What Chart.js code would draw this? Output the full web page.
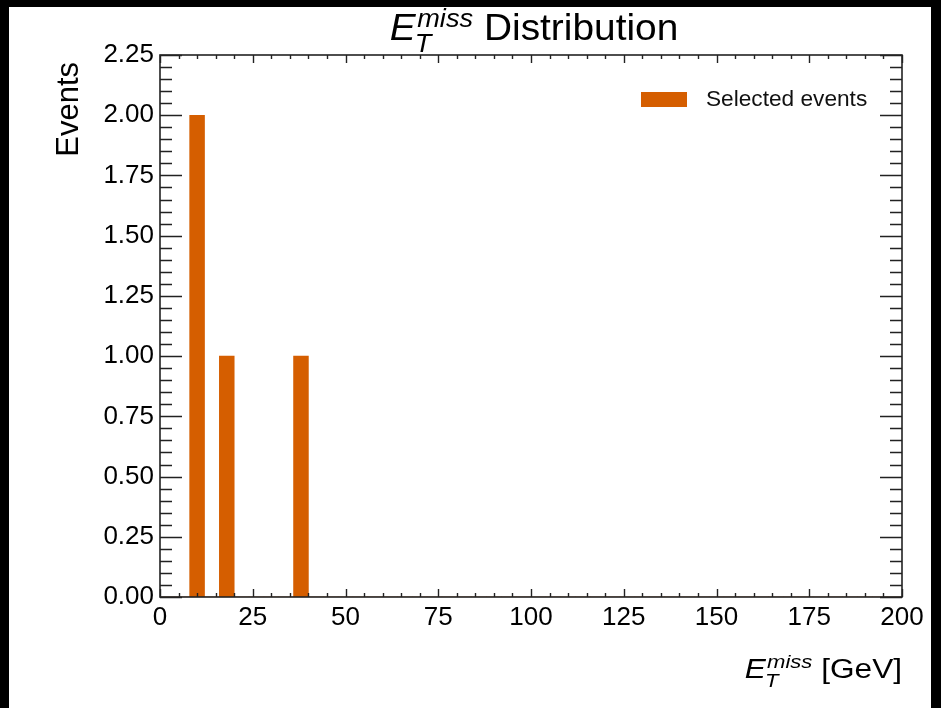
<!DOCTYPE html>
<html><head><meta charset="utf-8">
<script src="https://cdn.jsdelivr.net/npm/chart.js@4.4.0/dist/chart.umd.min.js"></script>
<style>
html,body{margin:0;padding:0;background:#000;width:941px;height:708px;overflow:hidden}
#wrap{position:absolute;left:9px;top:7px;width:922px;height:701px;background:#fff}
canvas{display:block}
</style></head><body><div id="wrap"><canvas id="c" width="922" height="701"></canvas></div>
<script>
// Histogram: 50 bins of 4 GeV from 0 to 200
const binLow = 0;
const binWidth = 4;
const counts = [0,0,2,0,1,0,0,0,0,1,
                0,0,0,0,0,0,0,0,0,0,
                0,0,0,0,0,0,0,0,0,0,
                0,0,0,0,0,0,0,0,0,0,
                0,0,0,0,0,0,0,0,0,0];
const seriesLabel = 'Selected events';
const xTickStep = 25, xMin = 0, xMax = 200;
const yTickStep = 0.25, yMin = 0, yMax = 2.25;
const barColor = '#d55e00';
const FONT = '"Liberation Sans", Arial, Helvetica, sans-serif';

const binCenters = counts.map((_, i) => binLow + binWidth * (i + 0.5));

function drawMath(ctx, x, y, size, sx, align, rest) {
  const sub = size * 0.7;
  ctx.save();
  ctx.font = 'italic ' + size + 'px ' + FONT;
  const wE = ctx.measureText('E').width;
  ctx.font = 'italic ' + sub + 'px ' + FONT;
  const wM = ctx.measureText('miss').width;
  const wT = ctx.measureText('T').width;
  ctx.font = size + 'px ' + FONT;
  const wR = ctx.measureText(rest).width;
  const gap = size * 0.28;
  const total = (wE + size * 0.04 + Math.max(wM, wT) + gap + wR) * sx;
  let x0 = align === 'center' ? x - total / 2 : (align === 'right' ? x - total : x);
  ctx.translate(x0, y);
  ctx.scale(sx, 1);
  ctx.fillStyle = '#000';
  ctx.textBaseline = 'alphabetic';
  ctx.textAlign = 'left';
  ctx.font = 'italic ' + size + 'px ' + FONT;
  ctx.fillText('E', 0, 0);
  ctx.font = 'italic ' + sub + 'px ' + FONT;
  const sxp = wE + size * 0.04;
  ctx.fillText('miss', sxp, -size * 0.36);
  ctx.fillText('T', sxp - size * 0.06, size * 0.33);
  ctx.font = size + 'px ' + FONT;
  ctx.fillText(rest, sxp + Math.max(wM, wT) + gap, 0);
  ctx.restore();
}

const decorPlugin = {
  id: 'decor',
  afterDatasetsDraw(chart) {
    const ctx = chart.ctx;
    const a = chart.chartArea;
    const xs = chart.scales.x, ys = chart.scales.y;
    ctx.save();
    ctx.strokeStyle = '#222';
    ctx.lineWidth = 1.6;
    ctx.strokeRect(a.left, a.top, a.right - a.left, a.bottom - a.top);
    ctx.lineWidth = 1.4;
    ctx.beginPath();
    const ny = Math.round((yMax - yMin) / (yTickStep / 5));
    for (let i = 0; i <= ny; i++) {
      const v = yMin + i * yTickStep / 5;
      const p = Math.round(ys.getPixelForValue(v)) + 0.5;
      const L = (i % 5 === 0) ? 22 : 12;
      ctx.moveTo(a.left, p); ctx.lineTo(a.left + L, p);
      ctx.moveTo(a.right, p); ctx.lineTo(a.right - L, p);
    }
    const nx = Math.round((xMax - xMin) / (xTickStep / 5));
    for (let i = 0; i <= nx; i++) {
      const v = xMin + i * xTickStep / 5;
      const p = Math.round(xs.getPixelForValue(v)) + 0.5;
      const L = (i % 5 === 0) ? 8 : 4;
      ctx.moveTo(p, a.bottom); ctx.lineTo(p, a.bottom - L);
      ctx.moveTo(p, a.top); ctx.lineTo(p, a.top + L);
    }
    ctx.stroke();
    ctx.restore();

    drawMath(ctx, (a.left + a.right) / 2 + 3, 33, 37, 1.05, 'center', 'Distribution');
    drawMath(ctx, a.right, 671, 27, 1.17, 'right', '[GeV]');
    ctx.save();
    ctx.translate(69, a.top + 7);
    ctx.rotate(-Math.PI / 2);
    ctx.font = '31px ' + FONT;
    ctx.fillStyle = '#000';
    ctx.textAlign = 'right';
    ctx.textBaseline = 'alphabetic';
    ctx.fillText('Events', 0, 0);
    ctx.restore();
    const ds = chart.data.datasets[0];
    ctx.save();
    const bx = a.right - 261, by = a.top + 37;
    ctx.fillStyle = ds.backgroundColor;
    ctx.fillRect(bx, by, 46, 15);
    ctx.translate(bx + 65, by + 7.5);
    ctx.scale(1.03, 1);
    ctx.font = '22px ' + FONT;
    ctx.fillStyle = '#111';
    ctx.textAlign = 'left';
    ctx.textBaseline = 'middle';
    ctx.fillText(ds.label, 0, 0);
    ctx.restore();
  }
};

new Chart(document.getElementById('c'), {
  type: 'bar',
  data: {
    datasets: [{
      label: seriesLabel,
      data: binCenters.map((x, i) => ({ x: x, y: counts[i] })),
      backgroundColor: barColor,
      borderWidth: 0,
      barPercentage: 1.0,
      categoryPercentage: 1.0
    }]
  },
  options: {
    responsive: false,
    animation: false,
    layout: { padding: { top: 48, right: 29, left: 0, bottom: 0 } },
    plugins: { legend: { display: false }, tooltip: { enabled: false }, title: { display: false } },
    scales: {
      x: {
        type: 'linear', min: xMin, max: xMax, offset: false,
        grid: { display: false, drawTicks: false },
        border: { display: false },
        ticks: { stepSize: xTickStep, autoSkip: false, maxRotation: 0, padding: 5,
                 color: '#000', font: { family: FONT, size: 26 } },
        afterFit(s) { s.height = 111; }
      },
      y: {
        min: yMin, max: yMax,
        grid: { display: false, drawTicks: false },
        border: { display: false },
        ticks: { stepSize: yTickStep, padding: 6, color: '#000', font: { family: FONT, size: 26 },
                 callback: v => Number(v).toFixed(2) },
        afterFit(s) { s.width = 151; }
      }
    }
  },
  plugins: [decorPlugin]
});
</script>
</body></html>
